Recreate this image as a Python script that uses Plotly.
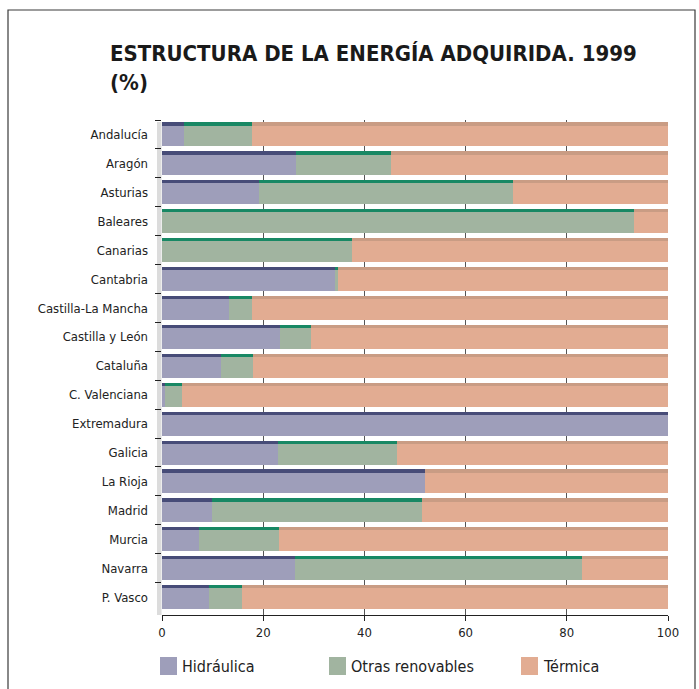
import plotly.graph_objects as go

# Energy purchased by region, 1999 (% share by source)
regions = ["Andalucía", "Aragón", "Asturias", "Baleares", "Canarias", "Cantabria",
           "Castilla-La Mancha", "Castilla y León", "Cataluña", "C. Valenciana",
           "Extremadura", "Galicia", "La Rioja", "Madrid", "Murcia", "Navarra", "P. Vasco"]
hidraulica = [4.3, 26.5, 19.2, 0.0, 0.0, 34.2, 13.2, 23.3, 11.7, 0.6,
              100.0, 22.9, 52.0, 9.9, 7.3, 26.3, 9.3]
otras_renovables = [13.4, 18.8, 50.2, 93.3, 37.5, 0.5, 4.5, 6.1, 6.3, 3.4,
                    0.0, 23.5, 0.0, 41.5, 15.8, 56.7, 6.5]
termica = [round(100 - h - o, 1) for h, o in zip(hidraulica, otras_renovables)]

series = [
    ("Hidráulica", hidraulica, "#9e9eba", "#474c78"),
    ("Otras renovables", otras_renovables, "#a1b4a0", "#188864"),
    ("Térmica", termica, "#e2ac92", "#c99c84"),
]

FONT = "DejaVu Sans Condensed, Liberation Sans Narrow, sans-serif"
BAR_W = 0.83      # bar thickness in category units
EDGE_W = 0.11     # darker top face of each bar

# plot area in pixels
L, R, T, B = 162, 31, 120, 74
W, H = 699, 689
PW, PH = W - L - R, H - T - B


def px_x(x):
    return (x - L) / PW


def px_y(y):
    return (H - B - y) / PH


fig = go.Figure()
base = [0.0] * len(regions)
for name, vals, body, edge in series:
    fig.add_trace(go.Bar(
        y=regions, x=vals, base=base, orientation="h", name=name,
        width=BAR_W, offset=-BAR_W / 2,
        marker=dict(color=body, line=dict(width=0)),
        showlegend=False, hoverinfo="x+y+name",
    ))
    fig.add_trace(go.Bar(
        y=regions, x=vals, base=base, orientation="h", name=name,
        width=EDGE_W, offset=-BAR_W / 2,
        marker=dict(color=edge, line=dict(width=0)),
        showlegend=False, hoverinfo="skip",
    ))
    base = [b + v for b, v in zip(base, vals)]

shapes = [
    # outer frame
    dict(type="rect", xref="paper", yref="paper", x0=px_x(8), x1=px_x(695),
         y0=px_y(700), y1=px_y(10),
         line=dict(color="#3a3a3a", width=1.2), fillcolor="rgba(0,0,0,0)", layer="below"),
    # left wall of the chart
    dict(type="rect", xref="paper", yref="paper", x0=px_x(157), x1=px_x(161.5),
         y0=0.0, y1=px_y(122),
         line=dict(width=0), fillcolor="#dcdcdc", layer="below"),
]

annotations = [
    dict(text="<b>ESTRUCTURA DE LA ENERGÍA ADQUIRIDA. 1999<br>(%)</b>",
         xref="paper", yref="paper", x=px_x(108), y=px_y(97), xanchor="left", yanchor="bottom",
         align="left", showarrow=False,
         font=dict(family=FONT, size=22, color="#1a1a1a")),
]

# legend row below the axis
legend_x = [160, 329, 521]
for (name, _, body, _), lx in zip(series, legend_x):
    shapes.append(dict(type="rect", xref="paper", yref="paper", x0=px_x(lx), x1=px_x(lx + 17),
                       y0=px_y(675), y1=px_y(657), line=dict(width=0), fillcolor=body))
    annotations.append(dict(text=name, xref="paper", yref="paper", x=px_x(lx + 20),
                            y=px_y(666), xanchor="left", yanchor="middle", showarrow=False,
                            font=dict(family=FONT, size=16, color="#222")))

fig.update_layout(
    width=W, height=H,
    margin=dict(l=L, r=R, t=T, b=B),
    paper_bgcolor="white", plot_bgcolor="white",
    barmode="overlay", bargap=0,
    font=dict(family=FONT, size=13, color="#222"),
    shapes=shapes, annotations=annotations,
    showlegend=False,
    xaxis=dict(range=[0, 100], tickvals=[0, 20, 40, 60, 80, 100],
               showgrid=True, gridcolor="#555", gridwidth=1, zeroline=False,
               showline=True, linecolor="#222", linewidth=1,
               ticks="outside", ticklen=5, tickcolor="#222",
               tickfont=dict(family=FONT, size=13, color="#222"), fixedrange=True),
    yaxis=dict(type="category", categoryorder="array", categoryarray=regions,
               range=[16.62, -0.5], tickson="boundaries",
               showgrid=False, zeroline=False, showline=False,
               ticks="outside", ticklen=6, tickcolor="#222", tickwidth=1.2,
               ticklabelstandoff=13,
               tickfont=dict(family=FONT, size=13, color="#222"), fixedrange=True),
)

fig.write_html("out.html")
